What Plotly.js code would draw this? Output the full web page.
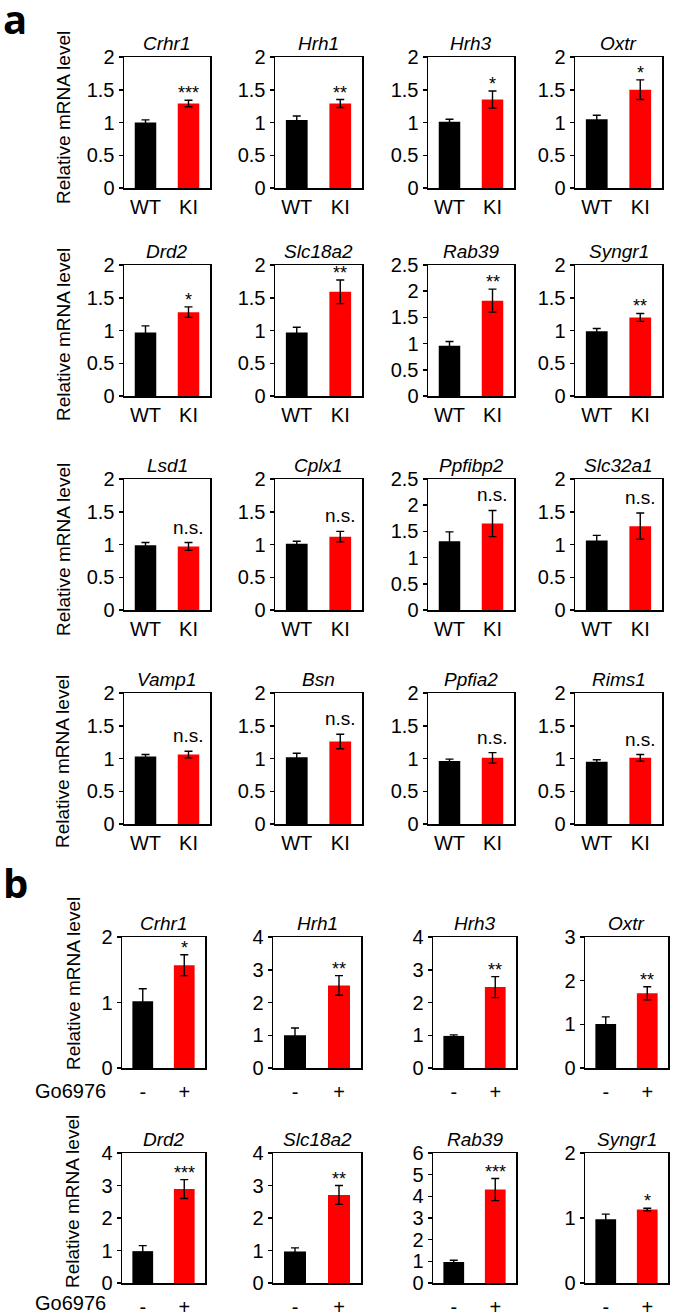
<!DOCTYPE html>
<html>
<head>
<meta charset="utf-8">
<script src="https://cdn.plot.ly/plotly-3.0.1.min.js"></script>
<style>
  html, body { margin: 0; padding: 0; background: #fff; }
  #fig { width: 675px; height: 1316px; }
</style>
</head>
<body>
<div id="fig"></div>
<script>
// panel a: WT vs KI
const genesA = ["Crhr1", "Hrh1", "Hrh3", "Oxtr", "Drd2", "Slc18a2", "Rab39", "Syngr1",
                "Lsd1", "Cplx1", "Ppfibp2", "Slc32a1", "Vamp1", "Bsn", "Ppfia2", "Rims1"];
const groupsA = ["WT", "KI"];
const wtA     = [1.00, 1.04, 1.01, 1.05, 0.97, 0.97, 0.96, 0.99, 0.99, 1.01, 1.31, 1.06, 1.03, 1.02, 0.96, 0.95];
const wtErrA  = [0.04, 0.06, 0.04, 0.06, 0.10, 0.08, 0.08, 0.04, 0.04, 0.04, 0.18, 0.08, 0.03, 0.06, 0.03, 0.03];
const kiA     = [1.29, 1.29, 1.35, 1.50, 1.28, 1.59, 1.82, 1.20, 0.97, 1.12, 1.65, 1.28, 1.06, 1.26, 1.01, 1.01];
const kiErrA  = [0.05, 0.06, 0.13, 0.15, 0.08, 0.18, 0.22, 0.06, 0.06, 0.08, 0.25, 0.20, 0.05, 0.11, 0.08, 0.05];
const sigA    = ["***", "**", "*", "*", "*", "**", "**", "**",
                 "n.s.", "n.s.", "n.s.", "n.s.", "n.s.", "n.s.", "n.s.", "n.s."];
const yMaxA   = [2, 2, 2, 2, 2, 2, 2.5, 2, 2, 2, 2.5, 2, 2, 2, 2, 2];

// panel b: Go6976 treatment
const genesB = ["Crhr1", "Hrh1", "Hrh3", "Oxtr", "Drd2", "Slc18a2", "Rab39", "Syngr1"];
const groupsB = ["-", "+"];
const ctrlB     = [1.02, 1.00, 0.98, 1.01, 0.98, 0.97, 0.97, 0.98];
const ctrlErrB  = [0.19, 0.22, 0.03, 0.16, 0.17, 0.11, 0.08, 0.08];
const goB       = [1.57, 2.52, 2.47, 1.71, 2.89, 2.71, 4.31, 1.13];
const goErrB    = [0.16, 0.30, 0.32, 0.15, 0.29, 0.29, 0.51, 0.02];
const sigB      = ["*", "**", "**", "**", "***", "**", "***", "*"];
const yMaxB     = [2, 4, 4, 3, 4, 4, 6, 2];

const W = 675, H = 1316;
const FONT = "Liberation Sans, Arial, sans-serif";
const rowsPx = [[57, 188], [265, 396], [479, 610], [693, 824], [937, 1068], [1153, 1283]];
const colsA = [[124, 210], [275, 362], [428, 514], [575, 662]];
const colsB = [[122, 205], [273, 361], [433, 516], [585, 668]];

const traces = [];
const layout = {
  width: W, height: H,
  margin: { l: 0, r: 0, t: 0, b: 0 },
  paper_bgcolor: "#fff", plot_bgcolor: "#fff",
  showlegend: false,
  bargap: 0.5,
  font: { family: FONT, color: "#000" },
  annotations: [],
};

function addPanel(idx, row, cols, col, gene, groups, vals, errs, sig, yMax, dtick, isB) {
  const n = idx + 1;
  const xa = "x" + (n === 1 ? "" : n), ya = "y" + (n === 1 ? "" : n);
  const xk = "xaxis" + (n === 1 ? "" : n), yk = "yaxis" + (n === 1 ? "" : n);
  traces.push({
    type: "bar", x: groups, y: vals, xaxis: xa, yaxis: ya,
    marker: { color: ["#000000", "#ff0000"], line: { width: 0 } },
    error_y: { type: "data", array: errs, visible: true, color: "#000", thickness: 1.4, width: 4 },
    hoverinfo: "skip",
  });
  const c = cols[col], r = rowsPx[row];
  layout[xk] = {
    domain: [c[0] / W, c[1] / W], anchor: ya, type: "category", range: [-0.5, 1.5],
    showline: true, linecolor: "#000", linewidth: 1.5, mirror: true,
    ticks: "", showgrid: false, zeroline: false, fixedrange: true,
    tickfont: { size: 20, family: FONT, color: "#000" },
    ticklabelstandoff: isB ? 5 : 0,
  };
  layout[yk] = {
    domain: [1 - r[1] / H, 1 - r[0] / H], anchor: xa, range: [0, yMax], dtick: dtick,
    showline: true, linecolor: "#000", linewidth: 1.5, mirror: true,
    ticks: "outside", ticklen: 4, tickwidth: 1.5, tickcolor: "#000",
    showgrid: false, zeroline: false, fixedrange: true,
    tickfont: { size: 20, family: FONT, color: "#000" },
  };
  layout.annotations.push({
    text: "<i>" + gene + "</i>", xref: xa + " domain", yref: ya + " domain",
    x: 0.5, y: 1, xanchor: "center", yanchor: "bottom", yshift: 1, showarrow: false,
    font: { size: 19, family: FONT, color: "#000" },
  });
  const ns = sig === "n.s.";
  layout.annotations.push({
    text: sig, xref: xa, yref: ya, x: groups[1], y: vals[1] + errs[1],
    xanchor: "center", yanchor: "bottom", yshift: ns ? 3 : -5, showarrow: false,
    font: { size: ns ? 19 : 18, family: FONT, color: "#000" },
  });
}

genesA.forEach((g, i) => {
  addPanel(i, Math.floor(i / 4), colsA, i % 4, g, groupsA,
    [wtA[i], kiA[i]], [wtErrA[i], kiErrA[i]], sigA[i], yMaxA[i], 0.5, false);
});
genesB.forEach((g, i) => {
  addPanel(16 + i, 4 + Math.floor(i / 4), colsB, i % 4, g, groupsB,
    [ctrlB[i], goB[i]], [ctrlErrB[i], goErrB[i]], sigB[i], yMaxB[i], 1, true);
});

// y titles on the first column
const yTitlePos = [[63, 118], [63, 335], [63, 550], [63, 762], [73, 984], [72, 1202]];
yTitlePos.forEach(p => {
  layout.annotations.push({
    text: "Relative mRNA level", xref: "paper", yref: "paper",
    x: p[0] / W, y: 1 - p[1] / H, xanchor: "center", yanchor: "middle",
    textangle: -90, showarrow: false, font: { size: 19, family: FONT, color: "#000" },
  });
});

// treatment row labels
[1091, 1303].forEach(yy => {
  layout.annotations.push({
    text: "Go6976", xref: "paper", yref: "paper", x: 108 / W, y: 1 - yy / H,
    xanchor: "right", yanchor: "middle", showarrow: false,
    font: { size: 20, family: FONT, color: "#000" },
  });
});

// panel letters
[["a", 15, 19], ["b", 15, 882]].forEach(p => {
  layout.annotations.push({
    text: "<b>" + p[0] + "</b>", xref: "paper", yref: "paper", x: p[1] / W, y: 1 - p[2] / H,
    xanchor: "center", yanchor: "middle", showarrow: false,
    font: { size: 40, family: "Open Sans, sans-serif", color: "#000" },
  });
});

Plotly.newPlot("fig", traces, layout, { displayModeBar: false, staticPlot: true });
</script>
</body>
</html>
